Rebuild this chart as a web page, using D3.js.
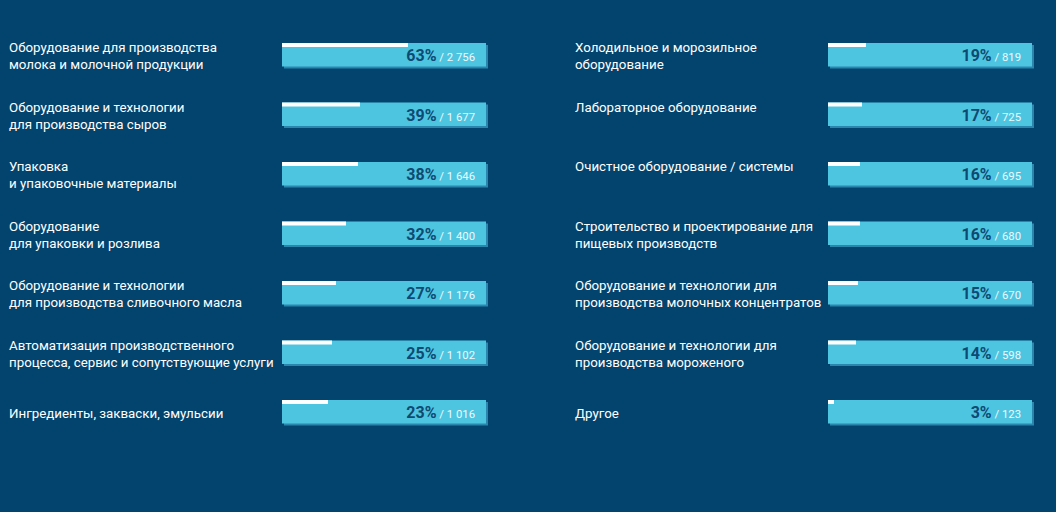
<!DOCTYPE html>
<html><head><meta charset="utf-8">
<script src="https://cdn.jsdelivr.net/npm/d3@7"></script>
<style>
html,body{margin:0;padding:0;background:#03446e;}
svg{display:block;font-family:Roboto,"Noto Sans",sans-serif;}
</style></head><body>
<svg id="c" width="1056" height="512"></svg>
<script>
const leftLabels = [
  "Оборудование для производства\nмолока и молочной продукции",
  "Оборудование и технологии\nдля производства сыров",
  "Упаковка\nи упаковочные материалы",
  "Оборудование\nдля упаковки и розлива",
  "Оборудование и технологии\nдля производства сливочного масла",
  "Автоматизация производственного\nпроцесса, сервис и сопутствующие услуги",
  "Ингредиенты, закваски, эмульсии"
];
const leftPct = [63, 39, 38, 32, 27, 25, 23];
const leftCount = ["2 756", "1 677", "1 646", "1 400", "1 176", "1 102", "1 016"];

const rightLabels = [
  "Холодильное и морозильное\nоборудование",
  "Лабораторное оборудование\n",
  "Очистное оборудование / системы\n",
  "Строительство и проектирование для\nпищевых производств",
  "Оборудование и технологии для\nпроизводства молочных концентратов",
  "Оборудование и технологии для\nпроизводства мороженого",
  "Другое"
];
const rightPct = [19, 17, 16, 16, 15, 14, 3];
const rightCount = ["819", "725", "695", "680", "670", "598", "123"];

const svg = d3.select("#c");
const rows = d3.range(7);
const y = d3.scalePoint().domain(rows).range([43, 400]);
const bh = 23.5;
const barW = 204;
const x = d3.scaleLinear().domain([0, 100]).range([0, 200]);

function column(labels, pct, counts, labelX, barX) {
  const g = svg.append("g");
  const row = g.selectAll("g.row").data(rows).join("g").attr("class","row")
    .attr("transform", i => `translate(0,${y(i)})`);
  row.each(function(i){
    const lines = labels[i].split("\n");
    const lh = 17;
    const cy = bh/2 - (lines.length-1)*lh/2;
    const t = d3.select(this).append("text")
      .attr("x", labelX).attr("fill", "#ffffff").attr("font-size", 13.3);
    lines.forEach((ln, k) => {
      t.append("tspan").attr("x", labelX).attr("y", cy + k*lh + 6.2).text(ln);
    });
  });
  row.append("rect").attr("x", barX+2).attr("y", 2).attr("width", barW).attr("height", bh).attr("fill", "#2a86ad");
  row.append("rect").attr("x", barX).attr("y", 0).attr("width", barW).attr("height", bh).attr("fill", "#4dc5e1");
  row.append("rect").attr("x", barX).attr("y", 0).attr("width", i => x(pct[i])).attr("height", 4).attr("fill", "#ffffff");
  const t = row.append("text").attr("x", barX + barW - 11).attr("y", 18).attr("text-anchor", "end");
  t.append("tspan").attr("font-weight", "bold").attr("font-size", 16).attr("fill", "#0f4a72").text(i => pct[i] + "%");
  t.append("tspan").attr("font-size", 11.3).attr("fill", "#eef9fc").text(i => " / " + counts[i]);
}
column(leftLabels, leftPct, leftCount, 9, 282);
column(rightLabels, rightPct, rightCount, 575, 828);
</script>
</body></html>
